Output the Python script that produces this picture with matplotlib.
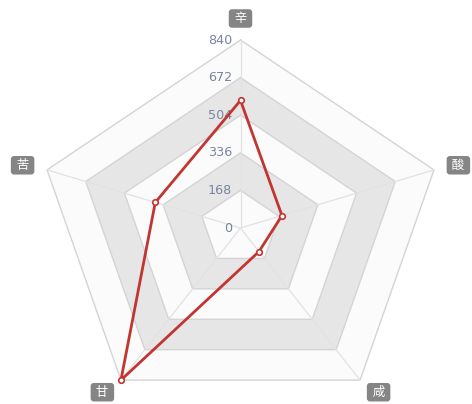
import numpy as np
import matplotlib
matplotlib.use("Agg")
import matplotlib.pyplot as plt

plt.rcParams['font.family'] = ['Noto Sans CJK SC', 'DejaVu Sans']

# ---- data ----
indicators = ['辛', '苦', '甘', '咸', '酸']   # counter-clockwise from top
values = [570, 370, 840, 130, 180]
max_value = 840
tick_values = [0, 168, 336, 504, 672, 840]
tick_labels = ['0', '168', '336', '504', '672', '840']

# ---- layout (pixels of the 472x404 canvas) ----
W, H = 472, 404
cx_px, cy_px = 240.5, 228.0
R_px = 188.0
stretch = 1.082
sy = R_px / max_value
sx = sy * stretch

fig = plt.figure(figsize=(W / 100, H / 100), dpi=100)
ax = fig.add_axes([0, 0, 1, 1])
ax.set_xlim(-cx_px / sx, (W - cx_px) / sx)
ax.set_ylim(-(H - cy_px) / sy, cy_px / sy)
ax.axis('off')

n = len(indicators)
angles = np.deg2rad(90 + 72 * np.arange(n))
ux, uy = np.cos(angles), np.sin(angles)


def poly(r):
    r = np.broadcast_to(np.asarray(r, dtype=float), (n,))
    return np.append(r * ux, r[0] * ux[0]), np.append(r * uy, r[0] * uy[0])


# split areas (alternating from the inside)
area_colors = ['#fbfbfb', '#e6e6e6']
levels = tick_values[1:]
for i in range(len(levels) - 1, -1, -1):
    x, y = poly(levels[i])
    ax.fill(x, y, color=area_colors[i % 2], zorder=1, lw=0)
# split lines
for lv in levels:
    x, y = poly(lv)
    ax.plot(x, y, color='#d4d4d4', lw=1.0, zorder=2)
# axis lines
for k in range(n):
    ax.plot([0, max_value * ux[k]], [0, max_value * uy[k]], color='#e2e2e2', lw=0.9, zorder=2)

# tick labels along the top axis
for tv, tl in zip(tick_values, tick_labels):
    ax.text(-8.5 / sx, tv, tl, ha='right', va='center', fontsize=9.2,
            color='#7884a0', family='DejaVu Sans', zorder=3)

# indicator names
gap = 15.0 / sy
for k, name in enumerate(indicators):
    r = max_value + gap
    px, py = r * ux[k], r * uy[k]
    if abs(ux[k]) < 1e-6:
        ha, va = 'center', 'bottom'
    elif ux[k] < 0:
        ha, va = 'right', 'center'
    else:
        ha, va = 'left', 'center'
    ax.text(px, py, ' ' + name + ' ', ha=ha, va=va, fontsize=9, color='white', zorder=6,
            bbox=dict(boxstyle='round,pad=0.22,rounding_size=0.25', fc='#858585', ec='none'))

# series
x, y = poly(values)
ax.plot(x, y, color='#c23531', lw=2, zorder=4, solid_joinstyle='miter')
ax.plot(x[:-1], y[:-1], 'o', ms=4, mfc='white', mec='#c23531', mew=1.2, zorder=5, ls='none')

fig.savefig('out.png', dpi=100)
